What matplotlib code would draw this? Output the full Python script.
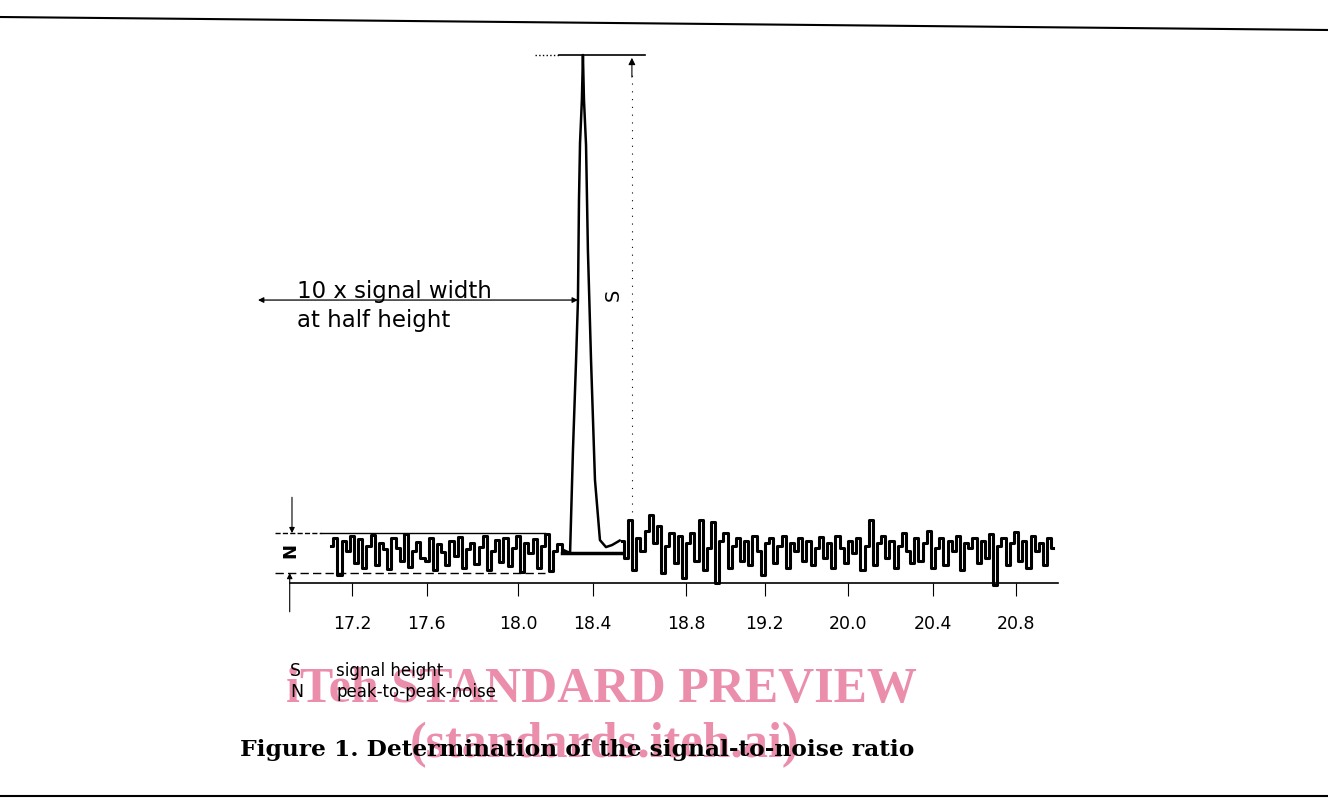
import numpy as np
import matplotlib
matplotlib.use("Agg")
import matplotlib.pyplot as plt
from matplotlib.lines import Line2D

# retention time axis (min) - label positions
tick_pos = [17.2, 17.56, 18.0, 18.36, 18.81, 19.19, 19.59, 20.0, 20.4]
tick_labels = ["17.2", "17.6", "18.0", "18.4", "18.8", "19.2", "20.0", "20.4", "20.8"]

# baseline noise before the peak (signal units, S = 100)
noise_left_start = 17.10
noise_left = [1.5, 3.0, -4.5, 2.5, 0.5, 3.5, -2.0, 2.8, -3.0, 1.5, 3.6, -2.5,
              2.0, 0.8, -3.2, 3.0, 1.0, -1.5, 3.8, -2.8, 0.5, 2.2, -1.0, -1.5,
              3.0, -3.5, 1.8, 0.2, -2.5, 2.5, -0.5, 3.2, -3.0, 0.8, 2.0, -2.2,
              1.2, 3.4, -3.4, 0.5, 2.6, -1.8, 3.0, -2.6, 1.0, 3.5, -3.8, 2.0,
              0.0, 2.8, -3.0, 1.5, 3.9, -3.6, 0.5, 1.8, 0.5]

# the peak itself
peak_time = [18.225, 18.251, 18.265, 18.280, 18.289, 18.294, 18.299, 18.308, 18.313,
             18.318, 18.328, 18.337, 18.352, 18.371, 18.395, 18.424, 18.453, 18.49]
peak_signal = [0.5, 0.0, 20.7, 38.8, 50.8, 70.9, 82.3, 91.0, 100.0,
               91.0, 81.9, 60.8, 38.8, 14.7, 2.6, 1.2, 1.6, 2.5]

# baseline noise after the peak
noise_right_start = 18.50
noise_right = [2.5, -1.0, 6.6, -3.5, 3.0, 0.5, 4.5, 7.6, 2.0, 5.5, -4.0, 1.5,
               4.0, -2.0, 3.5, -5.0, 2.0, 4.0, -1.5, 6.6, -3.5, 1.0, 6.2, -6.0,
               2.5, 4.0, -3.0, 1.5, 3.0, -1.5, 2.5, -2.5, 3.5, 0.5, -4.5, 2.0,
               3.0, -2.0, 1.5, 3.5, -3.0, 2.0, 0.5, 3.0, -1.5, 2.5, -2.5, 1.0,
               3.2, -1.0, 2.0, -3.0, 3.5, 1.0, -2.0, 2.5, 0.0, 3.0, -3.5, 1.5,
               6.6, -2.5, 2.0, 3.5, -1.0, 2.5, -3.0, 1.5, 4.0, 0.5, -2.0, 3.0,
               -1.5, 2.0, 4.5, -3.0, 1.0, 3.0, -2.5, 2.5, 0.5, 3.5, -3.5, 2.0,
               1.0, 3.0, -2.0, 2.5, -1.0, 3.8, -6.4, 1.5, 3.0, -2.5, 2.0, 4.2,
               -1.5, 2.5, -3.0, 3.5, 0.5, 2.0, -2.5, 3.0, 1.0]

noise_step = 0.02
S_height = 100.0
N_half = 4.0

t_left = noise_left_start + noise_step * np.arange(len(noise_left))
t_right = noise_right_start + noise_step * np.arange(len(noise_right))

fig = plt.figure(figsize=(13.28, 8), dpi=100)
ax = fig.add_axes([0.1869, 0.2371, 0.6188, 0.7128])
ax.set_xlim(16.7, 20.66)
ax.set_ylim(-11.5, 103)

ax.plot(t_left, noise_left, color="black", lw=2.2, drawstyle="steps-mid")
ax.plot(peak_time, peak_signal, color="black", lw=1.8, solid_joinstyle="round")
ax.plot(t_right, noise_right, color="black", lw=2.2, drawstyle="steps-mid")
# drop line under the peak
ax.plot([18.212, 18.50], [0, 0], color="black", lw=2.5)

# axis
for side in ["left", "right", "top"]:
    ax.spines[side].set_visible(False)
ax.spines["bottom"].set_position(("data", -6))
ax.spines["bottom"].set_bounds(16.9, 20.60)
ax.spines["bottom"].set_linewidth(1.2)
ax.set_xticks(tick_pos, tick_labels)
ax.set_yticks([])
ax.tick_params(axis="x", length=9, width=0.8, pad=14, labelsize=12.5)

# S: signal height
ax.plot([18.08, 18.20], [S_height, S_height], color="black", lw=1, ls=":")
ax.plot([18.20, 18.612], [S_height, S_height], color="black", lw=1.2)
ax.plot([18.549, 18.549], [2, 97], color="black", lw=0.8, ls=(0, (1, 6)))
ax.annotate("", xy=(18.549, S_height), xytext=(18.549, 95),
            arrowprops=dict(arrowstyle="-|>", color="black", lw=0.8, mutation_scale=10))
ax.text(18.458, 51.8, "S", rotation=90, ha="center", va="center", fontsize=14)

# width at half height
ax.annotate("", xy=(16.747, 50.8), xytext=(18.289, 50.8),
            arrowprops=dict(arrowstyle="<|-|>", color="black", lw=0.9, mutation_scale=8,
                            shrinkA=0, shrinkB=0))
ax.text(16.935, 52.6, "10 x signal width", ha="left", va="center", fontsize=16.5)
ax.text(16.935, 46.6, "at half height", ha="left", va="center", fontsize=16.5)

# N: peak-to-peak noise
ax.plot([16.83, 17.05], [N_half, N_half], color="black", lw=1, ls="--")
ax.plot([17.05, 18.13], [N_half, N_half], color="black", lw=1)
ax.plot([16.83, 18.13], [-N_half, -N_half], color="black", lw=1, ls=(0, (6, 3)))
ax.annotate("", xy=(16.911, N_half), xytext=(16.911, 11.2),
            arrowprops=dict(arrowstyle="-|>", color="black", lw=0.8, mutation_scale=8,
                            shrinkA=0, shrinkB=0), annotation_clip=False)
ax.annotate("", xy=(16.90, -N_half), xytext=(16.90, -11.8),
            arrowprops=dict(arrowstyle="-|>", color="black", lw=0.8, mutation_scale=8,
                            shrinkA=0, shrinkB=0), annotation_clip=False)
ax.text(16.905, 0.6, "N", rotation=90, ha="center", va="center", fontsize=13, fontweight="bold")

# preview watermark (behind the printed text)
fig.text(601 / 1328, 1 - 690 / 800, "iTeh STANDARD PREVIEW", fontsize=36,
         family="Liberation Serif", fontweight="bold", color="#e87a9e", alpha=0.85,
         ha="center", va="center", zorder=1)
fig.text(605 / 1328, 1 - 745 / 800, "(standards.iteh.ai)", fontsize=36,
         family="Liberation Serif", fontweight="bold", color="#e87a9e", alpha=0.85,
         ha="center", va="center", zorder=1)

# key below the chart
fig.text(290 / 1328, 1 - 671 / 800, "S", fontsize=12.5, va="center", zorder=5)
fig.text(336 / 1328, 1 - 671 / 800, "signal height", fontsize=12, va="center", zorder=5)
fig.text(290 / 1328, 1 - 692 / 800, "N", fontsize=12.5, va="center", zorder=5)
fig.text(336 / 1328, 1 - 692 / 800, "peak-to-peak-noise", fontsize=12, va="center", zorder=5)

fig.text(240 / 1328, 1 - 750 / 800, "Figure 1. Determination of the signal-to-noise ratio",
         fontsize=16.8, family="DejaVu Serif", fontweight="bold", va="center", zorder=5)

# page frame lines of the scan
fig.add_artist(Line2D([0.0, 1.0], [1 - 17 / 800, 1 - 30 / 800], color="black", lw=1.5))
fig.add_artist(Line2D([0.0, 1.0], [1 - 796 / 800, 1 - 796 / 800], color="black", lw=1.5))

fig.savefig("out.png", dpi=100)
